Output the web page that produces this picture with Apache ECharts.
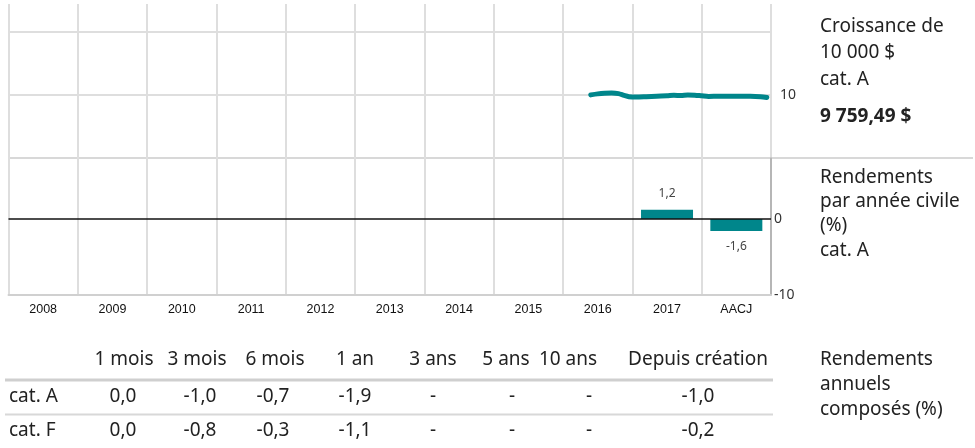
<!DOCTYPE html>
<html>
<head>
<meta charset="utf-8">
<script src="https://cdn.jsdelivr.net/npm/echarts@6/dist/echarts.min.js"></script>
<style>
  html, body { margin: 0; padding: 0; background: #fff; }
  #chart { width: 975px; height: 448px; }
</style>
</head>
<body>
<div id="chart"></div>
<script>
// catégories (années civiles)
const years = ['2008', '2009', '2010', '2011', '2012', '2013', '2014', '2015', '2016', '2017', 'AACJ']
// rendements par année civile (%), cat. A
const calendarReturns = [null, null, null, null, null, null, null, null, null, 1.2, -1.6]
// croissance de 10 000 $ (en milliers), position en années depuis 2008
const growthX = [8.40, 8.50, 8.60, 8.70, 8.80, 8.88, 8.95, 9.05, 9.20, 9.35, 9.50, 9.60, 9.70, 9.80, 9.90, 10.00, 10.10, 10.25, 10.40, 10.55, 10.70, 10.85, 10.94]
const growthY = [10.00, 10.08, 10.13, 10.15, 10.10, 9.96, 9.86, 9.83, 9.86, 9.90, 9.93, 9.97, 9.95, 10.00, 9.98, 9.93, 9.88, 9.90, 9.90, 9.89, 9.89, 9.86, 9.80]
// rendements annuels composés (%)
const periods = ['1 mois', '3 mois', '6 mois', '1 an', '3 ans', '5 ans', '10 ans', 'Depuis création']
const rowNames = ['cat. A', 'cat. F']
const catA = [0.0, -1.0, -0.7, -1.9, null, null, null, -1.0]
const catF = [0.0, -0.8, -0.3, -1.1, null, null, null, -0.2]

const TEAL = '#00868b'
const FONT = '"Noto Sans", "Open Sans", sans-serif'
const fmt = v => v == null ? '-' : v.toFixed(1).replace('.', ',')

const chart = echarts.init(document.getElementById('chart'))

const headX = [124, 197, 275, 355, 433, 506, 568, 698]
const cellX = [123, 200, 273, 355, 433, 512, 589, 698]

function txt(text, x, y, opts = {}) {
  return {
    type: 'text', silent: true,
    style: Object.assign({
      text, x, y, fill: '#222', font: '19px ' + FONT,
      textAlign: 'left', textVerticalAlign: 'middle',
    }, opts),
  }
}

const graphics = [
  // séparateur entre les deux panneaux
  { type: 'line', silent: true, shape: { x1: 9, y1: 158, x2: 973, y2: 158 }, style: { stroke: '#d8d8d8', lineWidth: 2 } },
  txt('Croissance de', 820, 27),
  txt('10 000 $', 820, 53),
  txt('cat. A', 820, 80),
  txt('9 759,49 $', 820, 117, { font: 'bold 19px ' + FONT }),
  txt('Rendements', 820, 178),
  txt('par année civile', 820, 202),
  txt('(%)', 820, 226),
  txt('cat. A', 820, 251),
  txt('Rendements', 820, 360),
  txt('annuels', 820, 385),
  txt('composés (%)', 820, 410),
  { type: 'line', silent: true, shape: { x1: 5, y1: 380, x2: 773, y2: 380 }, style: { stroke: '#cfcfcf', lineWidth: 3 } },
  { type: 'line', silent: true, shape: { x1: 5, y1: 414.5, x2: 773, y2: 414.5 }, style: { stroke: '#d8d8d8', lineWidth: 2 } },
]
periods.forEach((p, i) => graphics.push(txt(p, headX[i], 360, { textAlign: 'center' })))
;[catA, catF].forEach((row, r) => {
  const y = r === 0 ? 397 : 431
  graphics.push(txt(rowNames[r], 9, y))
  row.forEach((v, i) => graphics.push(txt(fmt(v), cellX[i], y, { textAlign: 'center' })))
})

const option = {
  animation: false,
  grid: [
    { left: 8.5, right: 204, top: 4, height: 154 },
    { left: 8.5, right: 204, top: 158, height: 137 },
  ],
  xAxis: [
    {
      type: 'category', gridIndex: 0, data: years, boundaryGap: true,
      axisLine: { show: false }, axisTick: { show: false }, axisLabel: { show: false },
      splitLine: { show: true, lineStyle: { color: '#dedede', width: 2 } },
    },
    {
      type: 'category', gridIndex: 1, data: years, boundaryGap: true,
      axisLine: { show: true, onZero: false, lineStyle: { color: '#d0d0d0', width: 2 } },
      axisTick: { show: false },
      axisLabel: { color: '#111', fontSize: 12.5, fontFamily: '"Liberation Sans", Arial, sans-serif', margin: 8 },
      splitLine: { show: true, lineStyle: { color: '#dedede', width: 2 } },
    },
    { type: 'value', gridIndex: 0, min: 0, max: 11, show: false },
  ],
  yAxis: [
    {
      type: 'value', gridIndex: 0, position: 'right', min: 5, max: 17.2, interval: 5,
      axisLine: { show: false }, axisTick: { show: false },
      axisLabel: { margin: 9, color: '#333', fontSize: 14, fontFamily: FONT, formatter: v => v === 10 ? '10' : '' },
      splitLine: { show: true, showMinLine: false, showMaxLine: false, lineStyle: { color: '#dedede', width: 2 } },
    },
    {
      type: 'value', gridIndex: 1, position: 'right', min: -10, max: 8, interval: 10,
      axisLine: { show: true, lineStyle: { color: '#a8a8a8', width: 1.5 } }, axisTick: { show: false },
      axisLabel: { margin: 3, color: '#333', fontSize: 14, fontFamily: FONT, formatter: v => (v === 0 || v === -10) ? String(v) : '' },
      splitLine: { show: false },
    },
  ],
  series: [
    {
      type: 'line', xAxisIndex: 2, yAxisIndex: 0,
      data: growthX.map((x, i) => [x, growthY[i]]),
      symbol: 'none', smooth: 0.3,
      lineStyle: { color: TEAL, width: 5, cap: 'round' },
    },
    {
      type: 'bar', xAxisIndex: 1, yAxisIndex: 1, barWidth: 52,
      data: calendarReturns.map(v => v == null ? null : {
        value: v,
        label: { position: v >= 0 ? 'top' : 'bottom' },
      }),
      itemStyle: { color: TEAL },
      label: {
        show: true, distance: 10, color: '#444', fontSize: 12, fontFamily: FONT,
        formatter: p => fmt(p.value),
      },
      markLine: {
        silent: true, symbol: 'none', label: { show: false },
        lineStyle: { color: '#111', width: 1.5, type: 'solid' },
        data: [{ yAxis: 0 }],
      },
      z: 3,
    },
  ],
  graphic: graphics,
}

chart.setOption(option)
</script>
</body>
</html>
